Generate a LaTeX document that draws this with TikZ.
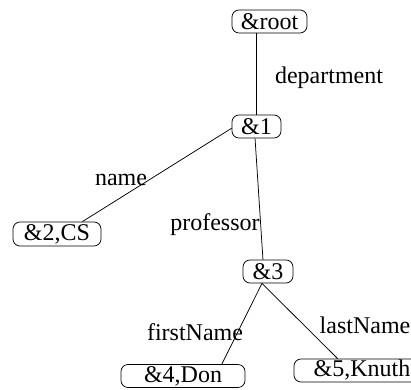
\documentclass[tikz,border=0pt]{standalone}
\usepackage{fontspec}
\setmainfont{Liberation Serif}
\begin{document}
\begin{tikzpicture}[x=1pt,y=-1pt,
  font=\fontsize{24}{28}\selectfont,
  box/.style={draw, rounded corners=7pt, inner sep=0pt, line width=0.75pt},
  lbl/.style={inner sep=0pt},
  edge/.style={line width=0.75pt}]
\useasboundingbox (0,0) rectangle (411,389);
\clip (0,0) rectangle (411,389);
% nodes
\node[box, minimum width=75pt, minimum height=23pt] (root) at (269.5,21.5) {\&root};
\node[box, minimum width=49pt, minimum height=23pt] (n1) at (256.5,126.5) {\&1};
\node[box, minimum width=88pt, minimum height=24pt] (n2) at (57,234) {\&2,CS};
\node[box, minimum width=50pt, minimum height=23pt] (n3) at (268,271.5) {\&3};
\node[box, minimum width=124pt, minimum height=23pt] (n4) at (183,376) {\&4,Don};
\node[box, minimum width=136pt, minimum height=23pt] (n5) at (362,370.5) {\&5,Knuth};
% edges
\draw[edge] (n1.north) -- (n1.north |- root.south);
\draw[edge] (n1.184) -- (n2.26);
\draw[edge] (n1.-97) -- (n3.113.5);
\draw[edge] (n3.-117) -- (n4.17);
\draw[edge] (n3.-117) -- (n5.154);
% labels
\node[lbl] (ldep) at (329,78) {department};
\node[lbl] (lname) at (121,179.5) {name};
\node[lbl] (lprof) at (215,224.5) {professor};
\node[lbl] (lfirst) at (195,332) {firstName};
\node[lbl] (llast) at (365,325) {lastName};
\end{tikzpicture}
\end{document}
